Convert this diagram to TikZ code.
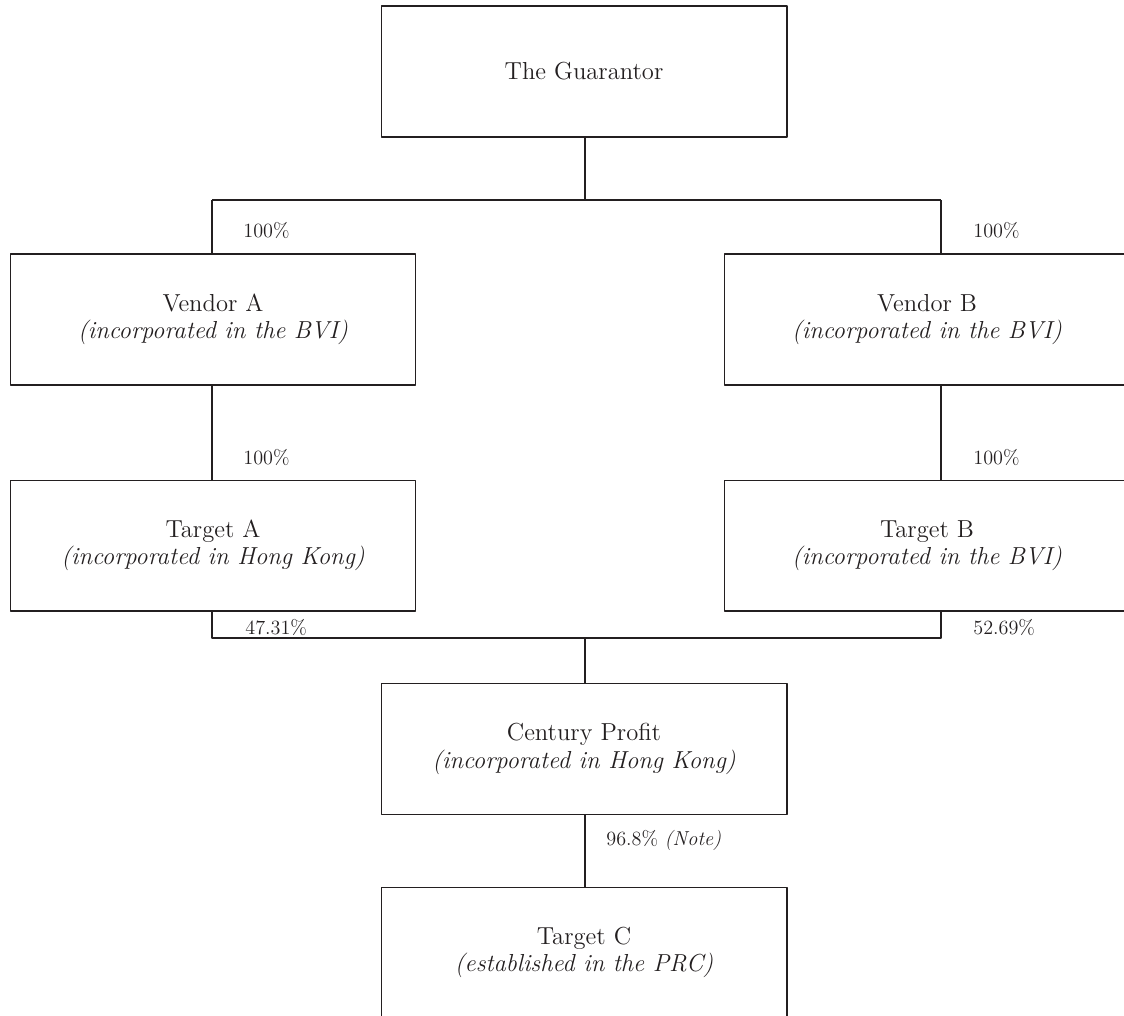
\documentclass[tikz,border=0pt]{standalone}
\usepackage{tikz}
\usetikzlibrary{positioning}
\definecolor{inkgray}{HTML}{231F20}
\tikzset{
  entity/.style={draw=inkgray, line width=0.6pt, text=inkgray, align=center,
    minimum width=8.12cm, minimum height=2.62cm, inner sep=0pt,
    font=\fontsize{14}{15.5}\selectfont},
  share/.style={anchor=west, text=inkgray, inner sep=0pt,
    font=\fontsize{11.5}{13}\selectfont},
  link/.style={draw=inkgray, line width=0.6pt}
}
\begin{document}
\begin{tikzpicture}[x=0.02cm, y=-0.02cm, line join = round]

                        \clip (0,0) rectangle (1124,1015);

                        % top
                        \node[entity] (guar) at (584,71.5) {The Guarantor};
                        % vendors
                        \node[entity] (vendA) at (213,319.5) {Vendor A\\\textit{(incorporated in the BVI)}};
                        \node[entity] (vendB) at (927,319.5) {Vendor B\\\textit{(incorporated in the BVI)}};
                        % targets
                        \node[entity] (tgtA) at (213,545.5) {Target A\\\textit{(incorporated in Hong Kong)}};
                        \node[entity] (tgtB) at (927,545.5) {Target B\\\textit{(incorporated in the BVI)}};
                        % century profit
                        \node[entity] (cent) at (584,749) {Century Profit\\\textit{(incorporated in Hong Kong)}};
                        \node[entity] (tgtC) at (584,952.5) {Target C\\\textit{(established in the PRC)}};

                        % junctions
                        \coordinate (g0) at (585,200);
                        \coordinate (gA) at (212,200);
                        \coordinate (gB) at (941,200);
                        \coordinate (vB) at (941,385);
                        \coordinate (t0) at (585,638);
                        \coordinate (tA) at (212,638);
                        \coordinate (tB) at (941,638);

                        % lines
                        \draw[link] (guar.south -| g0) -- (g0);
                        \draw[link] (gA) -- (gB);
                        \draw[link] (gA) -- (gA |- vendA.north);
                        \draw[link] (gB) -- (gB |- vendB.north);
                        \draw[link] (vendA.south -| gA) -- (gA |- tgtA.north);
                        \draw[link] (vB) -- (vB |- tgtB.north);
                        \draw[link] (tgtA.south -| tA) -- (tA) -- (tB) -- (tB |- tgtB.south);
                        \draw[link] (t0) -- (t0 |- cent.north);
                        \draw[link] (cent.south -| t0) -- (t0 |- tgtC.north);

                        % shares
                        \node[share] (pVA) at (243,230) {100\%};
                        \node[share] (pVB) at (973,230) {100\%};
                        \node[share] (pTA) at (243,457) {100\%};
                        \node[share] (pTB) at (973,457) {100\%};
                        \node[share] (pCA) at (245,627) {47.31\%};
                        \node[share] (pCB) at (973,627) {52.69\%};
                        \node[share] (pTC) at (606,840) {96.8\% \textit{(Note)}};

                    \end{tikzpicture}
\end{document}
